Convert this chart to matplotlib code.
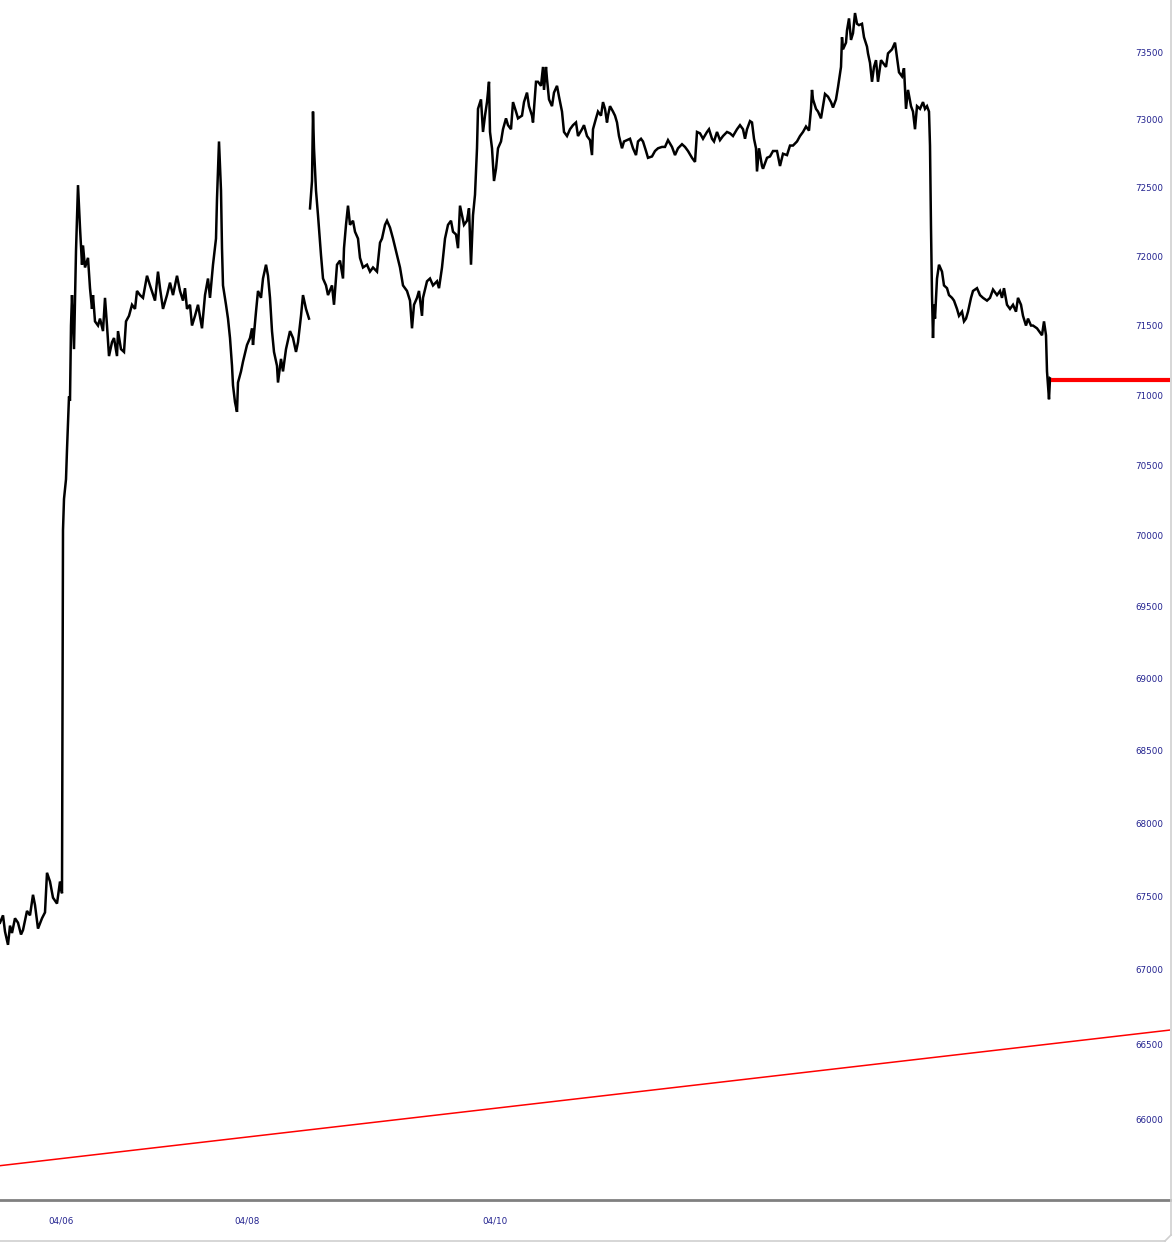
import numpy as np
import matplotlib
matplotlib.use("Agg")
import matplotlib.pyplot as plt
from matplotlib.lines import Line2D

# Price bars (x = bar number), first session up to the small gap
bars_a = [0, 3, 5, 8, 10, 12, 15, 18, 21, 23, 27, 30, 33, 35, 38, 42, 45, 47, 50, 53,
          57, 60, 62, 63, 64, 66, 67, 69, 70, 71, 72, 74, 76, 78, 80, 82, 83, 85, 88, 90,
          92, 93, 95, 98, 100, 103, 105, 107, 109, 112, 114, 117, 118, 121, 124, 126, 129,
          132, 135, 137, 140, 143, 147, 150, 155, 158, 160, 163, 167, 170, 173, 177, 180,
          183, 185, 187, 190, 192, 195, 198, 202, 205, 208, 210, 213, 216, 217, 219, 221,
          222, 223, 226, 228, 230, 232, 233, 235, 237, 238, 241, 243, 247, 250, 252, 253,
          256, 258, 261, 263, 266, 268, 270, 272, 274, 277, 278, 281, 283, 286, 290, 293,
          296, 298, 301, 303, 306, 309]
prices_a = [67320, 67370, 67260, 67170, 67300, 67250, 67350, 67320, 67240, 67270, 67400,
            67370, 67510, 67440, 67280, 67350, 67390, 67660, 67600, 67490, 67450, 67600,
            67520, 70040, 70260, 70400, 70610, 70990, 70960, 71500, 71720, 71330, 72040,
            72520, 72210, 71940, 72080, 71920, 71990, 71770, 71620, 71720, 71530, 71500,
            71550, 71460, 71700, 71500, 71280, 71380, 71410, 71280, 71460, 71330, 71310,
            71530, 71570, 71650, 71620, 71750, 71720, 71700, 71860, 71790, 71680, 71890,
            71770, 71620, 71720, 71810, 71720, 71860, 71750, 71680, 71770, 71620, 71650,
            71500, 71570, 71650, 71480, 71720, 71840, 71700, 71940, 72130, 72420, 72840,
            72480, 72060, 71790, 71650, 71550, 71410, 71210, 71070, 70950, 70880, 71090,
            71170, 71240, 71360, 71410, 71480, 71360, 71600, 71750, 71700, 71840, 71940,
            71860, 71700, 71460, 71310, 71210, 71090, 71260, 71170, 71330, 71460, 71410,
            71310, 71380, 71570, 71720, 71620, 71550]

# Second part, after the gap
bars_b = [310, 312, 313, 314, 316, 318, 321, 323, 326, 328, 332, 334, 337, 340, 343, 344,
          346, 348, 350, 353, 355, 358, 360, 363, 367, 370, 373, 377, 380, 382, 385, 387,
          390, 393, 397, 400, 403, 407, 410, 412, 414, 417, 419, 422, 423, 427, 430, 433,
          437, 439, 442, 445, 448, 451, 453, 456, 458, 460, 462, 464, 467, 469, 471, 473,
          475, 477, 478, 481, 483, 485, 487, 489, 490, 492, 494, 496, 498, 501, 503, 506,
          508, 511, 513, 516, 518, 522, 524, 527, 529, 532, 533, 536, 538, 541, 543, 544,
          546, 547, 549, 552, 554, 557, 559, 562, 564, 567, 570, 573, 576, 578, 582, 584,
          587, 590, 592, 593, 596, 598, 601, 603, 605, 607, 608, 610, 613, 615, 617, 619,
          622, 624, 627, 630, 633, 636, 638, 641, 643, 646, 648, 652, 655, 658, 662, 665,
          668, 672, 675, 678, 682, 685, 688, 692, 695, 697, 700, 703, 707, 709, 712, 714,
          717, 720, 723, 727, 730, 733, 737, 740, 743, 745, 747, 750, 752, 754, 756, 757,
          759, 762, 763, 767, 770, 773, 777, 780, 783, 787, 790, 793, 797, 800, 803, 806,
          809, 811, 812, 813, 816, 818, 821, 823, 825, 828, 831, 833, 836, 838, 841, 842,
          843, 846, 847, 849, 851, 853, 855, 857, 859, 862, 864, 867, 868, 870, 872, 874,
          876, 878, 881, 883, 886, 888, 892, 895, 897, 899, 902, 904, 906, 908, 911, 913,
          915, 917, 920, 923, 925, 927, 929, 930, 931, 932, 933, 934, 935, 937, 939, 942,
          944, 947, 949, 952, 954, 957, 959, 962, 964, 966, 968, 971, 973, 977, 980, 983,
          987, 990, 993, 997, 1000, 1002, 1004, 1007, 1010, 1013, 1016, 1018, 1021, 1023,
          1026, 1028, 1031, 1033, 1037, 1039, 1042, 1044, 1046, 1047, 1048, 1049, 1050, 1052]
prices_b = [72350, 72550, 73060, 72790, 72480, 72300, 72010, 71840, 71790, 71720, 71790,
            71650, 71940, 71970, 71840, 72060, 72230, 72370, 72230, 72260, 72180, 72130,
            71990, 71920, 71940, 71890, 71920, 71890, 72100, 72130, 72230, 72260, 72210,
            72130, 72010, 71920, 71790, 71750, 71680, 71480, 71650, 71700, 71750, 71570,
            71700, 71820, 71840, 71790, 71820, 71770, 71920, 72130, 72230, 72260, 72180,
            72160, 72060, 72370, 72300, 72230, 72260, 72350, 71940, 72300, 72450, 72790,
            73080, 73150, 72910, 73030, 73130, 73280, 72910, 72790, 72550, 72640, 72790,
            72840, 72930, 73010, 72960, 72930, 73130, 73060, 73010, 73030, 73130, 73200,
            73100, 73030, 72980, 73280, 73280, 73250, 73390, 73220, 73390, 73300, 73150,
            73100, 73200, 73250, 73170, 73060, 72910, 72880, 72930, 72960, 72980, 72880,
            72930, 72960, 72880, 72850, 72740, 72930, 73010, 73060, 73030, 73130, 73080,
            72980, 73030, 73100, 73060, 73030, 72980, 72880, 72790, 72840, 72850, 72860,
            72790, 72740, 72840, 72860, 72840, 72770, 72720, 72730, 72770, 72790, 72800,
            72800, 72850, 72800, 72740, 72790, 72820, 72800, 72770, 72720, 72690, 72910,
            72900, 72860, 72910, 72930, 72860, 72840, 72910, 72850, 72880, 72910, 72900,
            72880, 72930, 72960, 72930, 72860, 72930, 72990, 72980, 72860, 72790, 72620,
            72790, 72660, 72640, 72720, 72730, 72770, 72770, 72660, 72750, 72740, 72810,
            72810, 72840, 72880, 72910, 72950, 72920, 73080, 73220, 73150, 73080, 73060,
            73010, 73100, 73190, 73170, 73130, 73090, 73150, 73240, 73390, 73610, 73520,
            73570, 73660, 73750, 73590, 73640, 73790, 73710, 73700, 73710, 73610, 73540,
            73490, 73420, 73280, 73390, 73440, 73280, 73440, 73420, 73390, 73490, 73520,
            73570, 73460, 73350, 73320, 73380, 73080, 73220, 73100, 73060, 72930, 73100,
            73080, 73130, 73080, 73100, 73060, 72810, 72210, 71720, 71410, 71650, 71550,
            71840, 71940, 71890, 71790, 71770, 71720, 71700, 71680, 71620, 71570, 71600,
            71530, 71550, 71600, 71700, 71750, 71770, 71720, 71700, 71680, 71700, 71760,
            71720, 71750, 71700, 71770, 71650, 71620, 71650, 71600, 71700, 71650, 71570,
            71500, 71550, 71500, 71500, 71480, 71460, 71430, 71530, 71430, 71170, 71070,
            70970, 71120, 71110]

# Last price marker and the long-term trend line
last_bars = [1053, 1170]
last_price = 71110
trend_bars = [0, 1170]
trend_prices = [65690, 66595]

date_bars = [61, 247, 495]
date_labels = ["04/06", "04/08", "04/10"]
y_ticks = list(range(66000, 74000, 500))

label_color = "#22228f"

fig = plt.figure(figsize=(11.75, 12.45), dpi=100)
ax = fig.add_axes([0, 45 / 1245, 1170 / 1175, 1200 / 1245])

ax.plot(bars_a, prices_a, color="black", lw=1.8, solid_joinstyle="miter")
ax.plot(bars_b, prices_b, color="black", lw=1.8, solid_joinstyle="miter")
ax.plot(last_bars, [last_price, last_price], color="#ff0000", lw=3)
ax.plot(trend_bars, trend_prices, color="#ff0000", lw=1.1)

ax.set_yscale("log")
ax.set_ylim(65463, 73887)
ax.set_xlim(0, 1170)

ax.yaxis.tick_right()
ax.set_yticks(y_ticks)
ax.set_yticklabels([str(v) for v in y_ticks])
ax.yaxis.set_minor_locator(matplotlib.ticker.NullLocator())
ax.tick_params(axis="y", length=0, pad=-25, labelsize=6.3, labelcolor=label_color)

ax.set_xticks(date_bars)
ax.set_xticklabels(date_labels)
ax.tick_params(axis="x", length=0, pad=12, labelsize=6.3, labelcolor=label_color)

for side in ["top", "left", "right"]:
    ax.spines[side].set_visible(False)
ax.spines["bottom"].set_color("#808080")
ax.spines["bottom"].set_linewidth(2)

# light frame on the right and bottom, like the chart widget border
border = "#cfcfcf"
fig.add_artist(Line2D([1171 / 1175, 1171 / 1175], [1.0, 10 / 1245],
                      transform=fig.transFigure, color=border, lw=1.2))
fig.add_artist(Line2D([0, 1165 / 1175], [4 / 1245, 4 / 1245],
                      transform=fig.transFigure, color=border, lw=1.2))
fig.add_artist(Line2D([1165 / 1175, 1171 / 1175], [4 / 1245, 10 / 1245],
                      transform=fig.transFigure, color=border, lw=1.2))

fig.savefig("out.png", dpi=100)
